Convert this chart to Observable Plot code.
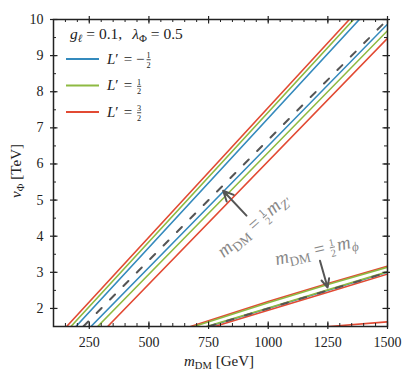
<!DOCTYPE html>
<html><head><meta charset="utf-8">
<script src="https://cdn.jsdelivr.net/npm/d3@7"></script>
<script src="https://cdn.jsdelivr.net/npm/@observablehq/plot@0.6"></script>
<style>body{margin:0;background:#fff}</style>
</head><body><div id="chart"></div>
<script>
// ---- tick values ----
const xMajor = [250, 500, 750, 1000, 1250, 1500];
const yMajor = [2, 3, 4, 5, 6, 7, 8, 9, 10];
const xMinor = d3.range(100, 1501, 50);
const yMinor = d3.range(1.5, 10.01, 0.5);

// ---- m_DM = m_Z'/2 bundle (m in GeV, v in TeV) ----
const zRedL_m = [155, 1340],   zRedL_v = [1.5, 10];
const zGreenL_m = [173, 1358], zGreenL_v = [1.5, 10];
const zBlueL_m = [194, 1382],  zBlueL_v = [1.5, 10];
const zDash_m = [225, 1500],   zDash_v = [1.5, 10];
const zBlueR_m = [257, 1500],  zBlueR_v = [1.5, 9.87];
const zGreenR_m = [285, 1500], zGreenR_v = [1.5, 9.69];
const zRedR_m = [327, 1500],   zRedR_v = [1.5, 9.48];

// ---- m_DM = m_phi/2 bundle ----
const pRedU_m = [675, 1000, 1250, 1500],   pRedU_v = [1.5, 2.19, 2.69, 3.17];
const pGreenU_m = [689, 1000, 1250, 1500], pGreenU_v = [1.5, 2.16, 2.66, 3.14];
const pGreenL_m = [742, 1000, 1250, 1500], pGreenL_v = [1.5, 2.015, 2.515, 3.015];
const pBlueL_m = [750, 1500],              pBlueL_v = [1.5, 3.0];
const pRedL_m = [775, 1000, 1250, 1500],   pRedL_v = [1.5, 1.95, 2.45, 2.95];
const pRedB_m = [1255, 1500],              pRedB_v = [1.5, 1.63];
const pDash_m = [750, 1500],               pDash_v = [1.5, 3.0];

// ---- annotation arrows ----
const arrowTail_m = [909, 1217], arrowTail_v = [4.57, 3.32];
const arrowHead_m = [811, 1249], arrowHead_v = [5.26, 2.58];

// ---- legend ----
const legendNum = ["1", "1", "3"];
const legendMinus = [true, false, false];

const RED = "#E24A33", GREEN = "#8EBA42", BLUE = "#348ABD", GRAY = "#555555";
const legendColors = [BLUE, GREEN, RED];

const W = 407, H = 376, mL = 53, mR = 20, mT = 19, mB = 50;
const FONT = "'Liberation Serif', 'DejaVu Serif', serif";

function series(ms, vs) { return ms.map((m, i) => ({m, v: vs[i]})); }
function line(ms, vs, color, extra = {}) {
  return Plot.line(series(ms, vs), {x: "m", y: "v", stroke: color, strokeWidth: 1.6, clip: true, ...extra});
}
const tk = "#222";
const dash = {strokeWidth: 2, strokeDasharray: "7,12"};
const plot = Plot.plot({
  width: W, height: H,
  marginLeft: mL, marginRight: mR, marginTop: mT, marginBottom: mB,
  x: {domain: [100, 1500]},
  y: {domain: [1.5, 10]},
  style: {fontFamily: FONT, fontSize: "14px", color: "#222", background: "white"},
  marks: [
    line(zRedL_m, zRedL_v, RED),
    line(zGreenL_m, zGreenL_v, GREEN),
    line(zBlueL_m, zBlueL_v, BLUE),
    line(zBlueR_m, zBlueR_v, BLUE),
    line(zGreenR_m, zGreenR_v, GREEN),
    line(zRedR_m, zRedR_v, RED),
    line(zDash_m, zDash_v, GRAY, dash),
    line(pRedU_m, pRedU_v, RED),
    line(pGreenU_m, pGreenU_v, GREEN),
    line(pBlueL_m, pBlueL_v, BLUE),
    line(pGreenL_m, pGreenL_v, GREEN),
    line(pRedL_m, pRedL_v, RED),
    line(pRedB_m, pRedB_v, RED),
    line(pDash_m, pDash_v, GRAY, dash),
    Plot.arrow(arrowTail_m.map((_, i) => i), {
      x1: i => arrowTail_m[i], y1: i => arrowTail_v[i],
      x2: i => arrowHead_m[i], y2: i => arrowHead_v[i],
      stroke: GRAY, strokeWidth: 2, headLength: 9, headAngle: 50
    }),
    // bottom ticks
    Plot.ruleX(xMinor, {x: d => d, y1: 1.5, y2: 1.5, insetTop: -3, insetBottom: 0, stroke: tk}),
    Plot.ruleX(xMajor, {x: d => d, y1: 1.5, y2: 1.5, insetTop: -4.5, insetBottom: -3, stroke: tk, strokeWidth: 1.2}),
    // top ticks
    Plot.ruleX(xMinor, {x: d => d, y1: 10, y2: 10, insetTop: 3, insetBottom: 0, stroke: tk}),
    Plot.ruleX(xMajor, {x: d => d, y1: 10, y2: 10, insetTop: 4.5, insetBottom: 3, stroke: tk, strokeWidth: 1.2}),
    // left ticks
    Plot.ruleY(yMinor, {y: d => d, x1: 100, x2: 100, insetLeft: 0, insetRight: -3, stroke: tk}),
    Plot.ruleY(yMajor, {y: d => d, x1: 100, x2: 100, insetLeft: -3, insetRight: -4.5, stroke: tk, strokeWidth: 1.2}),
    // right ticks
    Plot.ruleY(yMinor, {y: d => d, x1: 1500, x2: 1500, insetLeft: -3, insetRight: 0, stroke: tk}),
    Plot.ruleY(yMajor, {y: d => d, x1: 1500, x2: 1500, insetLeft: -4.5, insetRight: -3, stroke: tk, strokeWidth: 1.2}),
    Plot.axisX({ticks: xMajor, tickSize: 0, tickPadding: 11, tickFormat: d => String(d), label: null}),
    Plot.axisY({ticks: yMajor, tickSize: 0, tickPadding: 10, tickFormat: d => String(d), label: null}),
    Plot.frame({stroke: "#222", strokeWidth: 1.5})
  ]
});
document.getElementById("chart").appendChild(plot);

const svg = d3.select(plot);
const sx = plot.scale("x"), sy = plot.scale("y");

// math text as one flowing <text> with tspans (relative dy only)
function math(parent, x, y, angle, parts, size, color, anchor = "middle") {
  const t = parent.append("text")
    .attr("transform", `translate(${x},${y}) rotate(${angle})`)
    .attr("fill", color)
    .attr("text-anchor", anchor)
    .attr("font-family", FONT)
    .attr("font-size", size)
    .attr("y", 0);
  const base = size * 0.3;
  let cur = 0;
  let afterFrac = false;
  const span = (txt, targetY, fs, opts = {}) => {
    const s = t.append("tspan").attr("dy", targetY - cur).attr("font-size", fs).text(txt);
    cur = targetY;
    if (opts.dx) s.attr("dx", opts.dx);
    if (opts.it) s.attr("font-style", "italic");
    return s;
  };
  for (const p of parts) {
    if (p.frac) {
      const fs = size * (p.fs || 0.6);
      const bar = base - size * 0.27;
      const dw = fs * 0.5;
      // numerator underlined -> fraction bar
      span(p.frac[0], bar - 1.1, fs, {dx: p.dx || 1.5})
        .style("text-decoration", "underline");
      span(p.frac[1], bar + 2.6 + 0.68 * fs, fs, {dx: -dw});
      afterFrac = true;
    } else {
      const fs = p.sub ? size * 0.7 : size;
      const yy = p.sub ? base + size * 0.22 : base;
      const dx = (p.dx || 0) + (afterFrac ? 2.5 : 0);
      span(p.t, yy, fs, {dx: dx || null, it: p.it});
      afterFrac = false;
    }
  }
  return t;
}

// axis labels
math(svg, 219, 361, 0, [{t: "m", it: true}, {t: "DM", sub: true}, {t: "[GeV]", dx: 4}], 15, "#222");
math(svg, 16, 171, -90, [{t: "v", it: true}, {t: "Φ", sub: true}, {t: "[TeV]", dx: 4}], 15, "#222");

// annotations
math(svg, sx.apply(939), sy.apply(4.29), -41,
  [{t: "m", it: true}, {t: "DM", sub: true}, {t: "=", dx: 5}, {frac: ["1", "2"], fs: 0.55, dx: 5},
   {t: "m", it: true, dx: 0}, {t: "Z′", sub: true, it: true}],
  19, "#888");
math(svg, sx.apply(1203), sy.apply(3.6), -13,
  [{t: "m", it: true}, {t: "DM", sub: true}, {t: "=", dx: 5}, {frac: ["1", "2"], fs: 0.55, dx: 5},
   {t: "m", it: true, dx: 0}, {t: "ϕ", sub: true, it: true}],
  19, "#888");

// legend
const lg = svg.append("g");
math(lg, 70, 34, 0, [{t: "g", it: true}, {t: "ℓ", sub: true, it: true}, {t: "= 0.1,", dx: 4},
  {t: "λ", it: true, dx: 10}, {t: "Φ", sub: true}, {t: "= 0.5", dx: 4}], 15.5, "#222", "start");
legendColors.forEach((c, i) => {
  const yy = 59 + i * 26.5;
  lg.append("line").attr("x1", 66).attr("x2", 99).attr("y1", yy).attr("y2", yy)
    .attr("stroke", c).attr("stroke-width", 1.8);
  const parts = [{t: "L", it: true}, {t: "′"}, {t: "=", dx: 5}];
  if (legendMinus[i]) parts.push({t: "−", dx: 4});
  parts.push({frac: [legendNum[i], "2"], fs: 0.55, dx: legendMinus[i] ? 2 : 5});
  math(lg, 107, yy, 0, parts, 15, "#222", "start");
});
</script>
</body></html>
